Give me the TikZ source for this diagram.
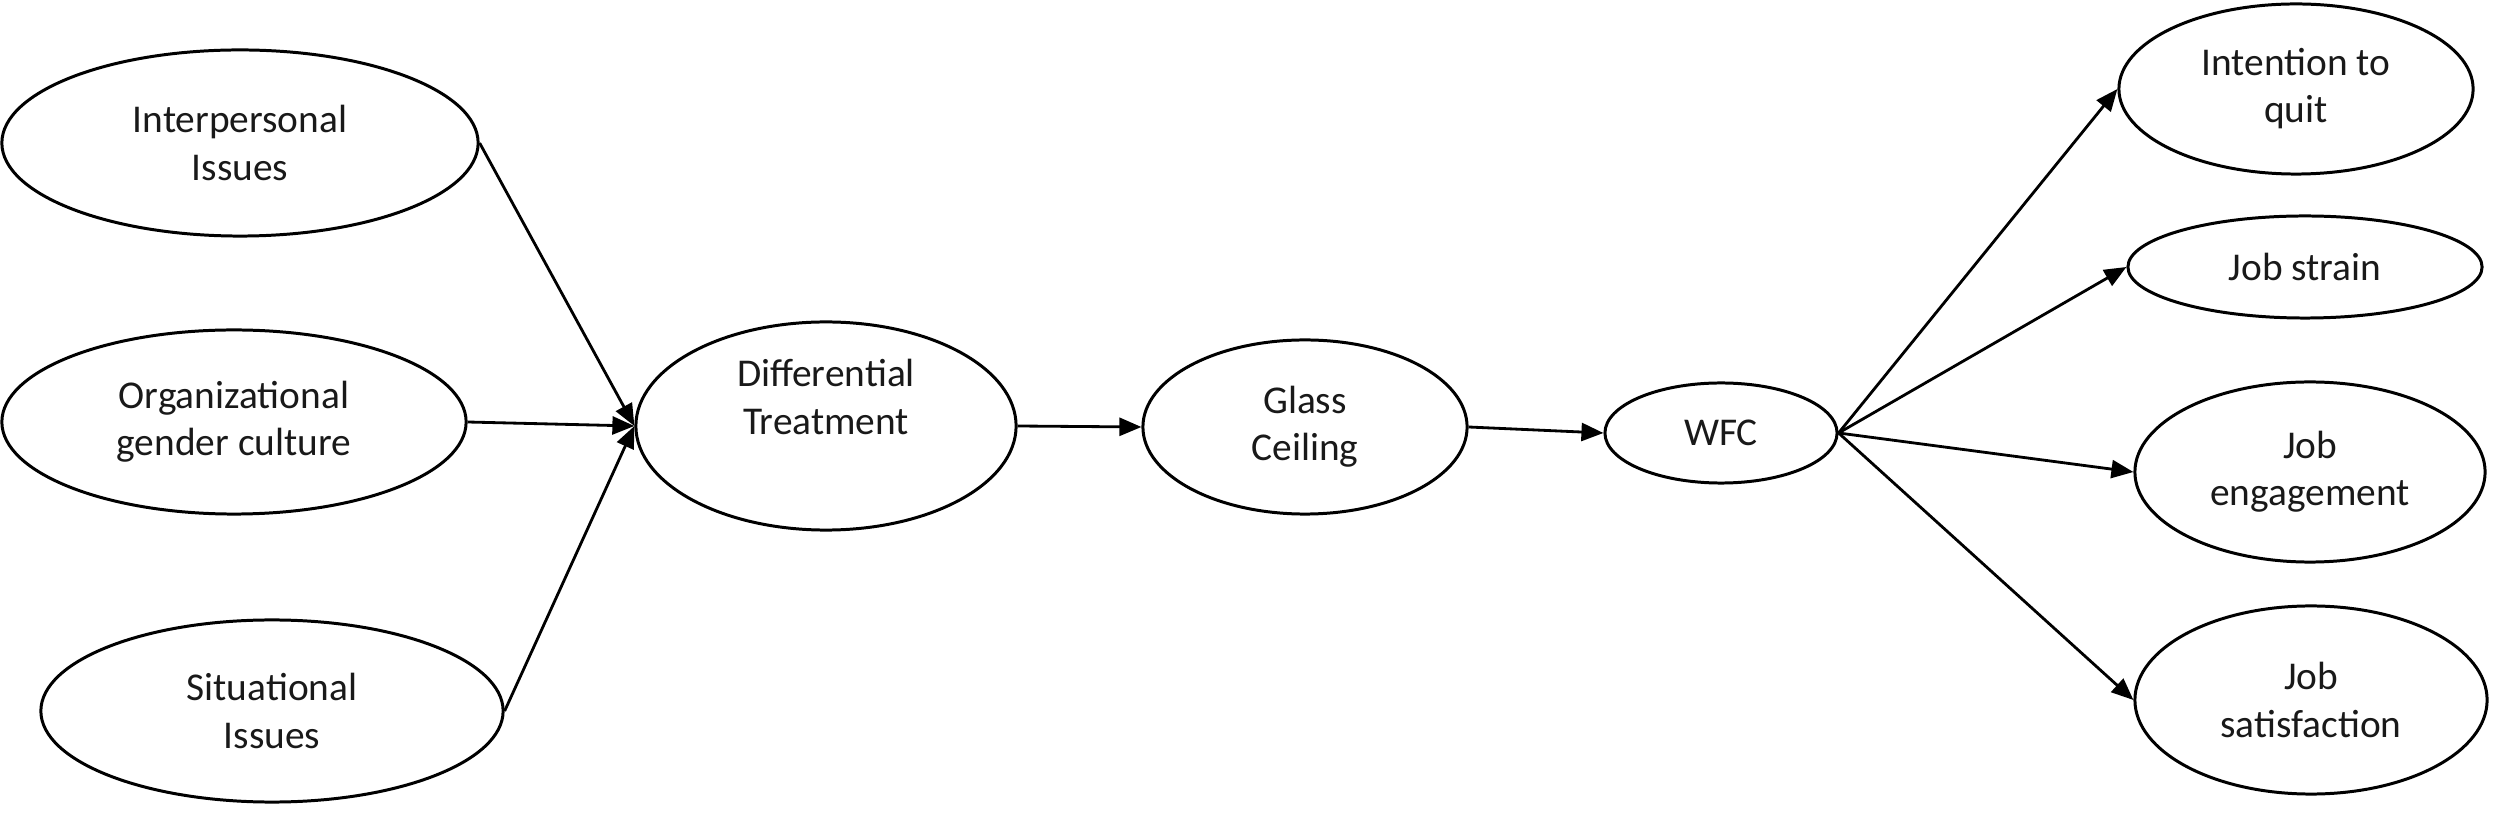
\documentclass[tikz,border=0pt]{standalone}
\usepackage{fontspec}
\setmainfont{Carlito}
\usetikzlibrary{arrows.meta,shapes.geometric}
\begin{document}
\begin{tikzpicture}[x=0.01cm,y=-0.01cm,
  oval/.style={draw=black, line width=0.85pt, ellipse, inner sep=0pt, align=center,
    font=\fontsize{11.2}{13.4}\selectfont, text=black!90},
  conn/.style={draw=black, line width=0.8pt, -{Triangle[length=2.2mm,width=1.8mm]}}]
\useasboundingbox (0,0) rectangle (2500,816);
\node[oval, minimum width=4.76cm, minimum height=1.86cm] (ip) at (240,143) {Interpersonal\\Issues};
\node[oval, minimum width=4.64cm, minimum height=1.84cm] (og) at (234,422) {Organizational\\gender culture};
\node[oval, minimum width=4.62cm, minimum height=1.82cm] (si) at (272,711) {Situational\\Issues};
\node[oval, minimum width=3.80cm, minimum height=2.08cm] (dt) at (826,426) {Differential\\Treatment\\[0.6ex]};
\node[oval, minimum width=3.24cm, minimum height=1.74cm] (gc) at (1305,427) {Glass\\Ceiling};
\node[oval, minimum width=2.32cm, minimum height=1.00cm] (wfc) at (1721,433) {WFC};
\node[oval, minimum width=3.54cm, minimum height=1.70cm] (iq) at (2296,89) {Intention to\\quit};
\node[oval, minimum width=3.54cm, minimum height=1.02cm] (js) at (2305,267) {Job strain};
\node[oval, minimum width=3.50cm, minimum height=1.80cm] (je) at (2310,472) {Job\\engagement};
\node[oval, minimum width=3.52cm, minimum height=1.88cm] (jsat) at (2311,700) {Job\\satisfaction};
\draw[conn] (ip.east) -- (dt.west);
\draw[conn] (og.east) -- (dt.west);
\draw[conn] (si.east) -- (dt.west);
\draw[conn] (dt.east) -- (gc.west);
\draw[conn] (gc.east) -- (wfc.west);
\draw[conn] (wfc.east) -- (iq.west);
\draw[conn] (wfc.east) -- (js.west);
\draw[conn] (wfc.east) -- (je.west);
\draw[conn] (wfc.east) -- (jsat.west);
\end{tikzpicture}
\end{document}
